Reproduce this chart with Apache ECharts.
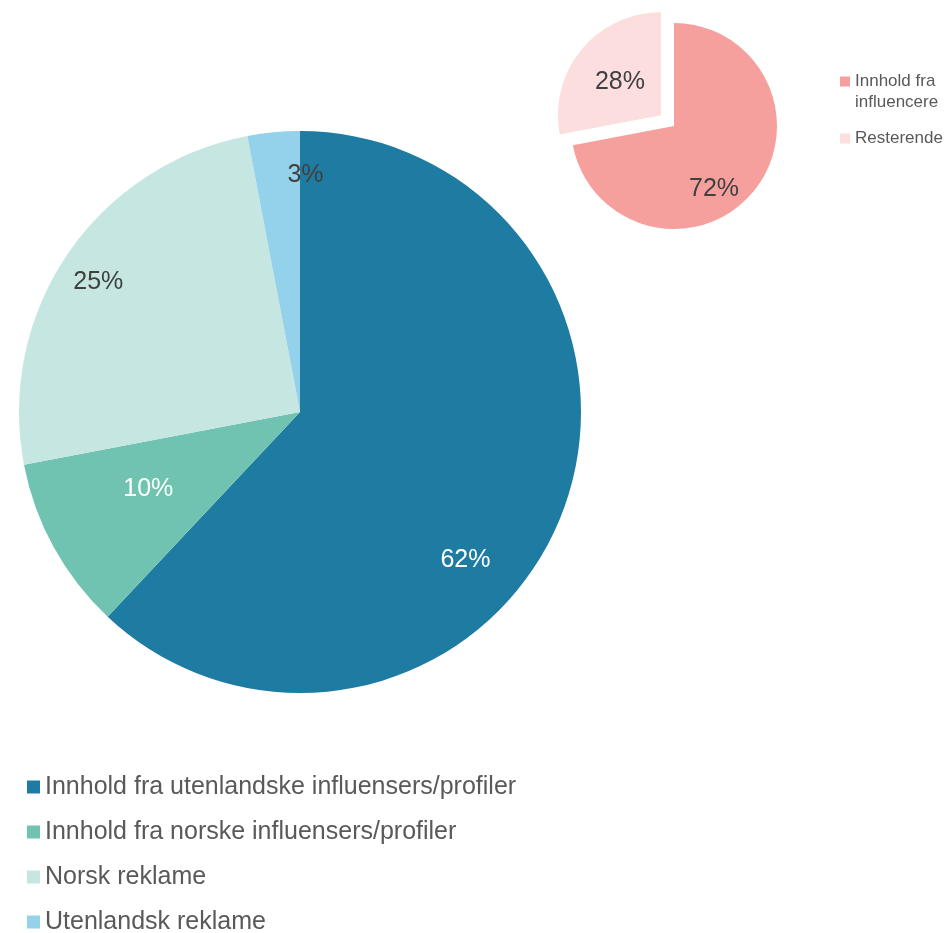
<!DOCTYPE html>
<html>
<head>
<meta charset="utf-8">
<script src="https://cdn.jsdelivr.net/npm/echarts@6/dist/echarts.min.js"></script>
<style>
  html, body { margin: 0; padding: 0; background: #fff; }
  #chart { width: 950px; height: 933px; }
</style>
</head>
<body>
<div id="chart"></div>
<script>
// hovedkake
var mainNames = [
  'Innhold fra utenlandske influensers/profiler',
  'Innhold fra norske influensers/profiler',
  'Norsk reklame',
  'Utenlandsk reklame'
]
var mainValues = [62, 10, 25, 3]
var mainColors = ['#1e7ba1', '#70c3b1', '#c6e6e1', '#93d2ea']
var mainLabelColors = ['#ffffff', '#ffffff', '#404040', '#404040']
// label nudges (Excel "best fit" placement)
var mainLabelShift = [[32, 95], [-26, 8], [-83, -49], [19, -94]]

// liten kake
var smallNames = ['Innhold fra influencere', 'Resterende']
var smallValues = [72, 28]
var smallColors = ['#f6a09e', '#fcdedf']
var smallLabelShift = [[-2, 28], [1, 2]]

var chart = echarts.init(document.getElementById('chart'))

var font = '"Liberation Sans", Arial, sans-serif'

chart.setOption({
  animation: false,
  legend: [
    {
      data: mainNames,
      orient: 'vertical',
      left: 27,
      top: 774,
      height: 180,
      padding: 0,
      itemWidth: 13,
      itemHeight: 13,
      itemGap: 19,
      icon: 'rect',
      selectedMode: false,
      textStyle: { fontFamily: font, fontSize: 25, lineHeight: 26, color: '#595959' }
    },
    {
      data: smallNames,
      orient: 'vertical',
      left: 840,
      top: 52,
      padding: 0,
      itemWidth: 10,
      itemHeight: 10,
      itemGap: 19,
      icon: 'rect',
      selectedMode: false,
      formatter: function (name) {
        if (name === smallNames[0]) {
          return '{e| }\n{t|Innhold fra}\n{t|influencere}'
        }
        return '{t|' + name + '}'
      },
      textStyle: {
        fontFamily: font,
        fontSize: 17,
        color: '#595959',
        rich: {
          e: { fontSize: 17, lineHeight: 21 },
          t: { fontFamily: font, fontSize: 17, lineHeight: 21, color: '#595959' }
        }
      }
    }
  ],
  series: [
    {
      name: 'main',
      type: 'pie',
      center: [300, 412],
      radius: [0, 281],
      startAngle: 90,
      clockwise: true,
      silent: true,
      emphasis: { disabled: true },
      label: {
        show: true,
        position: 'inside',
        formatter: '{c}%',
        fontFamily: font,
        fontSize: 25
      },
      labelLine: { show: false },
      labelLayout: function (p) {
        var s = mainLabelShift[p.dataIndex]
        return { dx: s[0], dy: s[1] }
      },
      data: mainNames.map(function (n, i) {
        return {
          name: n,
          value: mainValues[i],
          itemStyle: { color: mainColors[i], borderWidth: 0 },
          label: { color: mainLabelColors[i] }
        }
      })
    },
    {
      name: 'small',
      type: 'pie',
      center: [674, 126],
      radius: [0, 103],
      startAngle: 90,
      clockwise: true,
      selectedMode: 'single',
      selectedOffset: 17,
      silent: true,
      emphasis: { disabled: true },
      label: {
        show: true,
        position: 'inside',
        formatter: '{c}%',
        fontFamily: font,
        fontSize: 25,
        color: '#404040'
      },
      labelLine: { show: false },
      labelLayout: function (p) {
        var s = smallLabelShift[p.dataIndex]
        return { dx: s[0], dy: s[1] }
      },
      data: smallNames.map(function (n, i) {
        return {
          name: n,
          value: smallValues[i],
          selected: i === 1,
          itemStyle: { color: smallColors[i], borderWidth: 0 }
        }
      })
    }
  ]
})
</script>
</body>
</html>
